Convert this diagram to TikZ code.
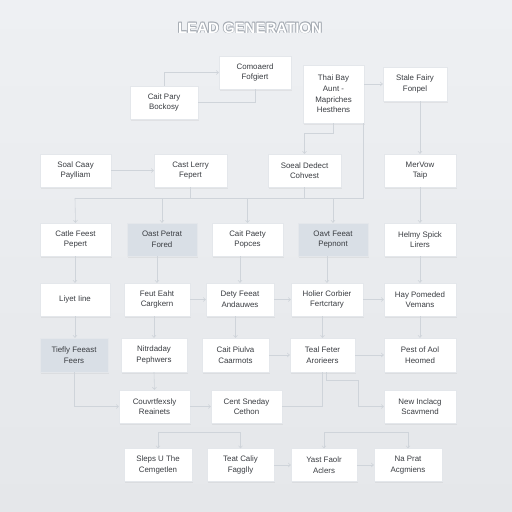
\documentclass[tikz,border=0pt]{standalone}
\usepackage{fontspec}
\setmainfont{Liberation Sans}
\usetikzlibrary{arrows.meta,shadows}
\definecolor{bgtop}{HTML}{EEF0F3}
\definecolor{bgbot}{HTML}{E5E7EA}
\definecolor{boxline}{HTML}{E4E7EB}
\definecolor{shadebox}{HTML}{D9DFE6}
\definecolor{txt}{HTML}{3A3D42}
\definecolor{conn}{HTML}{CFD4DA}
\definecolor{titleedge}{HTML}{A3A9B1}
\tikzset{
  box/.style={draw=boxline, line width=0.3pt, fill=white, align=center, inner sep=1pt,
    font=\fontsize{7.9}{10.6}\selectfont, text=txt,
    drop shadow={shadow xshift=0.5pt, shadow yshift=-1.6pt, opacity=0.11}},
  hbox/.style={box, fill=shadebox},
  line/.style={draw=conn, line width=0.6pt},
  arr/.style={line, -{Straight Barb[length=2.2pt,width=4pt]}},
  ttl/.style={font=\bfseries\fontsize{15}{17}\selectfont, text=titleedge},
}
\newcommand{\bx}[6][box]{\node[#1, minimum width=#4pt, minimum height=#5pt] (#2) at #3 {#6};}
\begin{document}
\begin{tikzpicture}[x=1pt,y=-1pt]
\shade[top color=bgtop, bottom color=bgbot] (0,0) rectangle (512,512);
\useasboundingbox (0,0) rectangle (512,512);
% title (grey outline made of offset copies, white on top)
\node[ttl] (titleS1) at (250.7,28.7) {LEAD GENERATION};
\node[ttl] (titleS2) at (249.3,28.7) {LEAD GENERATION};
\node[ttl] (titleS3) at (250.7,27.3) {LEAD GENERATION};
\node[ttl] (titleS4) at (249.3,27.3) {LEAD GENERATION};
\node[ttl, text=white] (title) at (250,28) {LEAD GENERATION};
% row 0
\bx{A}{(255,72.5)}{72}{33}{Comoaerd\\Fofgiert}
\bx{B}{(164,102.5)}{68}{33}{Cait Pary\\Bockosy}
\bx{C}{(333.5,94)}{61}{58}{Thai Bay\\Aunt -\\Mapriches\\Hesthens}
\bx{D}{(415,84)}{64}{34}{Stale Fairy\\Fonpel}
% row 1
\bx{Soal}{(75.5,170.5)}{71}{33}{Soal Caay\\Paylliam}
\bx{CastLerry}{(190.5,170.5)}{73}{33}{Cast Lerry\\Fepert}
\bx{Soeal}{(304.5,170.5)}{73}{33}{Soeal Dedect\\Cohvest}
\bx{MerVow}{(420,170.5)}{72}{33}{MerVow\\Taip}
% row 2
\bx{Catle}{(75.5,239.5)}{71}{33}{Catle Feest\\Pepert}
\bx[hbox]{Oast}{(162,239.5)}{70}{33}{Oast Petrat\\Fored}
\bx{Cait}{(247.5,239.5)}{71}{33}{Cait Paety\\Popces}
\bx[hbox]{Oavt}{(333,239.5)}{70}{33}{Oavt Feeat\\Pepnont}
\bx{Helmy}{(420,239.5)}{72}{33}{Helmy Spick\\Lirers}
% row 3
\bx{Liyet}{(75,299.5)}{70}{33}{Liyet Iine}
\bx{Feut}{(157,299.5)}{66}{33}{Feut Eaht\\Cargkern}
\bx{Dety}{(240,299.5)}{68}{33}{Dety Feeat\\Andauwes}
\bx{Holier}{(327,299.5)}{72}{33}{Holier Corbier\\Fertcrtary}
\bx{Hay}{(420,299.5)}{72}{33}{Hay Pomeded\\Vemans}
% row 4
\bx[hbox]{Tiefly}{(74,355)}{68}{34}{Tiefly Feeast\\Feers}
\bx{Nitr}{(154,355)}{66}{34}{Nitrdaday\\Pephwers}
\bx{CaitP}{(235.5,355)}{67}{34}{Cait Piulva\\Caarmots}
\bx{Teal}{(322.5,355)}{65}{34}{Teal Feter\\Arorieers}
\bx{Pest}{(420,355)}{72}{34}{Pest of Aol\\Heomed}
% row 5
\bx{Couvrt}{(154.5,406.5)}{71}{33}{Couvrtfexsly\\Reainets}
\bx{Cent}{(246.5,406.5)}{71}{33}{Cent Sneday\\Cethon}
\bx{New}{(420,406.5)}{72}{33}{New Inclacg\\Scavmend}
% row 6
\bx{Sleps}{(158,465)}{68}{33}{Sleps U The\\Cemgetlen}
\bx{Teat}{(240.5,465)}{67}{33}{Teat Caliy\\Fagglly}
\bx{Yast}{(324,465)}{66}{33}{Yast Faolr\\Aclers}
\bx{NaPrat}{(408,465)}{68}{33}{Na Prat\\Acgmiens}
% coordinates
\coordinate (busL) at (75,198);
\coordinate (cj) at (333.5,133);
\coordinate (tn) at (358,380);
\coordinate (bl) at (158,432);
\coordinate (blR) at (240.5,432);
\coordinate (brL) at (324,432);
\coordinate (brR) at (408,432);
% connectors top
\draw[arr] (B.north) |- (A.west);
\draw[line] (A.south) |- (B.east);
\draw[arr] (C.east |- D.west) -- (D.west);
\draw[line] (C.south) -- (cj);
\draw[arr] (cj) -| (Soeal.north);
\draw[line] ([xshift=-1pt]C.south east) -- ([xshift=-1pt]C.south east |- busL) -- (busL);
\draw[arr] (MerVow.north |- D.south) -- (MerVow.north);
\draw[arr] (Soal.east) -- (CastLerry.west);
\draw[arr] (MerVow.south) -- (Helmy.north);
% bus to row 2
\draw[line] (CastLerry.south) -- (CastLerry.south |- busL);
\draw[line] (Soeal.south) -- (Soeal.south |- busL);
\draw[arr] (busL) -- (Catle.north);
\draw[arr] (Oast.north |- busL) -- (Oast.north);
\draw[arr] (Cait.north |- busL) -- (Cait.north);
\draw[arr] (Oavt.north |- busL) -- (Oavt.north);
% row 2 -> row 3
\draw[arr] (Liyet.north |- Catle.south) -- (Liyet.north);
\draw[arr] (Feut.north |- Oast.south) -- (Feut.north);
\draw[arr] (Dety.north |- Cait.south) -- (Dety.north);
\draw[arr] (Holier.north |- Oavt.south) -- (Holier.north);
\draw[arr] (Helmy.south) -- (Hay.north);
% row 3
\draw[arr] (Feut.east) -- (Dety.west);
\draw[arr] (Dety.east) -- (Holier.west);
\draw[arr] (Holier.east) -- (Hay.west);
% row 3 -> row 4
\draw[arr] (Liyet.south) -- (Liyet.south |- Tiefly.north);
\draw[arr] (Nitr.north |- Feut.south) -- (Nitr.north);
\draw[arr] (CaitP.north |- Dety.south) -- (CaitP.north);
\draw[arr] (Teal.north |- Holier.south) -- (Teal.north);
\draw[arr] (Hay.south) -- (Pest.north);
% row 4
\draw[arr] (CaitP.east) -- (Teal.west);
\draw[arr] (Teal.east) -- (Pest.west);
% row 4 -> row 5
\draw[arr] (Tiefly.south) |- (Couvrt.west);
\draw[arr] (Nitr.south) -- (Couvrt.north);
\draw[arr] (Couvrt.east) -- (Cent.west);
\draw[line] (Cent.east) -| (Teal.south);
\draw[line] ([xshift=4pt]Teal.south) |- (tn);
\draw[arr] (tn) |- (New.west);
% brackets to row 6
\draw[line] (bl) -- (blR);
\draw[arr] (bl) -- (Sleps.north);
\draw[arr] (blR) -- (Teat.north);
\draw[line] (brL) -- (brR);
\draw[arr] (brL) -- (Yast.north);
\draw[arr] (brR) -- (NaPrat.north);
% row 6
\draw[arr] (Teat.east) -- (Yast.west);
\draw[arr] (Yast.east) -- (NaPrat.west);
\end{tikzpicture}
\end{document}
